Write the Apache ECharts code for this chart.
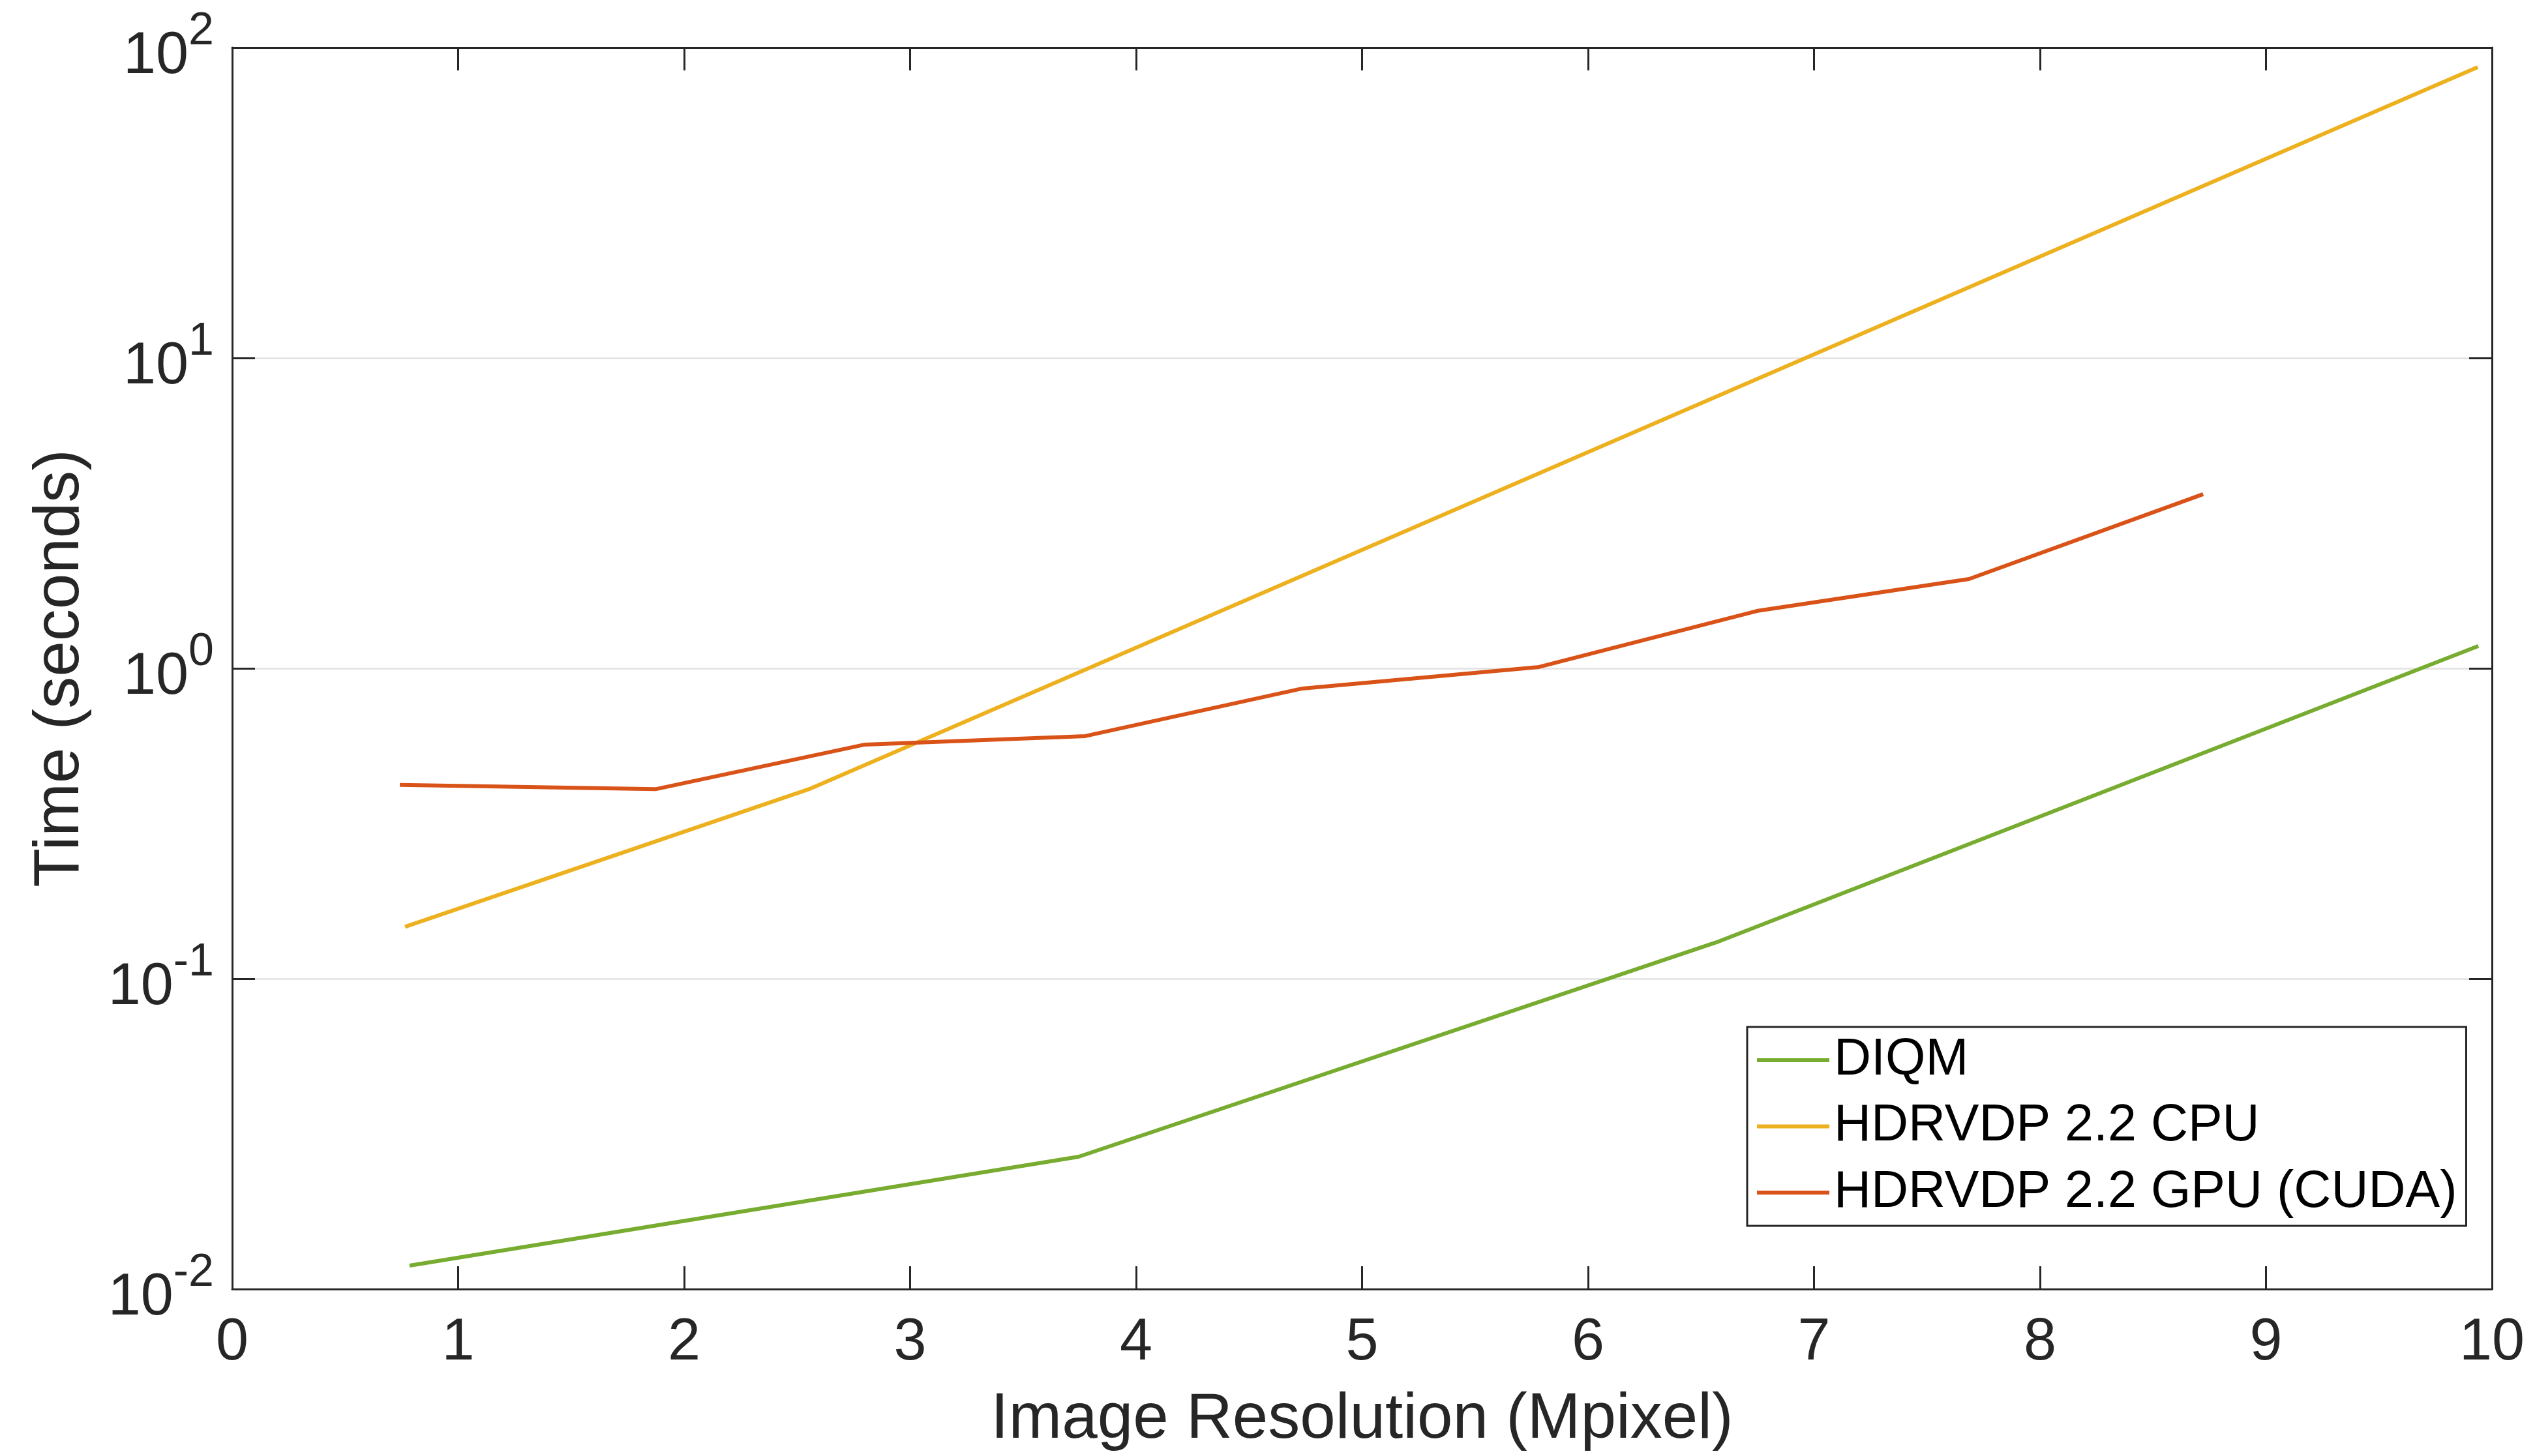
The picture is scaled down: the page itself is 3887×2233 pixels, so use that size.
<!DOCTYPE html>
<html><head><meta charset="utf-8">
<script src="https://cdn.jsdelivr.net/npm/echarts@6/dist/echarts.min.js"></script>
<style>html,body{margin:0;padding:0;background:#fff}#c{width:3887px;height:2233px}</style>
</head><body><div id="c"></div>
<script>
// ---- data ----
const seriesNames = ['DIQM', 'HDRVDP 2.2 CPU', 'HDRVDP 2.2 GPU (CUDA)'];
const diqmX = [0.785, 3.746, 6.568, 9.94];
const diqmY = [0.0119, 0.0267, 0.131, 1.18];
const cpuX = [0.765, 2.56, 9.937];
const cpuY = [0.147, 0.41, 86.5];
const gpuX = [0.742, 1.873, 2.80, 3.775, 4.736, 5.783, 6.747, 7.686, 8.722];
const gpuY = [0.421, 0.408, 0.568, 0.605, 0.861, 1.01, 1.53, 1.94, 3.64];
const xTickLabels = ['0','1','2','3','4','5','6','7','8','9','10'];
const yTickExponents = [-2, -1, 0, 1, 2];
const xTitle = 'Image Resolution (Mpixel)';
const yTitle = 'Time (seconds)';

// ---- style ----
const FONT = '"Liberation Sans", Arial, Helvetica, sans-serif';
const INK = '#262626';
const colors = ['#77AC30', '#EDB120', '#D95319'];

function zip(xs, ys) { return xs.map((x, i) => [x, ys[i]]); }

const chart = echarts.init(document.getElementById('c'), null, {renderer: 'canvas'});

const axisLine = {show: true, onZero: false, lineStyle: {color: INK, width: 3}};
const axisTick = {show: true, inside: true, length: 35, lineStyle: {color: INK, width: 3}};

const option = {
  animation: false,
  backgroundColor: '#fff',
  grid: {left: 356, right: 66, top: 73, bottom: 256, containLabel: false},
  xAxis: [{
    type: 'value', min: 0, max: 10, interval: 1, position: 'bottom',
    axisLine: axisLine, axisTick: axisTick,
    axisLabel: {margin: 38, fontSize: 90, color: INK, fontFamily: FONT,
      formatter: v => xTickLabels[Math.round(v)]},
    splitLine: {show: false},
    name: xTitle, nameLocation: 'middle', nameGap: 152,
    nameTextStyle: {fontSize: 98, color: INK, fontFamily: FONT}
  }, {
    type: 'value', min: 0, max: 10, interval: 1, position: 'top',
    axisLine: axisLine, axisTick: axisTick,
    axisLabel: {show: false}, splitLine: {show: false}
  }],
  yAxis: [{
    type: 'log', logBase: 10, min: 0.01, max: 100, position: 'left',
    axisLine: axisLine, axisTick: axisTick, minorTick: {show: false},
    axisLabel: {
      margin: 28, color: INK, fontFamily: FONT,
      formatter: v => {
        const e = Math.round(Math.log10(v));
        if (yTickExponents.indexOf(e) < 0) return '';
        return '{b|10}{s|' + e + '}';
      },
      rich: {
        b: {fontSize: 90, lineHeight: 118, verticalAlign: 'bottom', color: INK, fontFamily: FONT},
        s: {fontSize: 70, verticalAlign: 'top', color: INK, fontFamily: FONT}
      }
    },
    splitLine: {show: true, lineStyle: {color: '#e2e2e2', width: 2.5}},
    name: yTitle, nameLocation: 'middle', nameGap: 214, nameRotate: 90,
    nameTextStyle: {fontSize: 98, color: INK, fontFamily: FONT}
  }, {
    type: 'log', logBase: 10, min: 0.01, max: 100, position: 'right',
    axisLine: axisLine, axisTick: axisTick, minorTick: {show: false},
    axisLabel: {show: false}, splitLine: {show: false}
  }],
  legend: {
    orient: 'vertical', left: 2679, top: 1575,
    padding: [11, 14, 11, 15], itemGap: 21.5,
    itemWidth: 111, itemHeight: 6, icon: 'rect',
    borderColor: INK, borderWidth: 3, backgroundColor: '#fff',
    textStyle: {fontSize: 79, lineHeight: 80, color: '#000', fontFamily: FONT, padding: [0, 0, 0, 2]},
    data: seriesNames
  },
  series: [
    {name: seriesNames[0], type: 'line', data: zip(diqmX, diqmY), color: colors[0]},
    {name: seriesNames[1], type: 'line', data: zip(cpuX, cpuY), color: colors[1]},
    {name: seriesNames[2], type: 'line', data: zip(gpuX, gpuY), color: colors[2]}
  ].map(s => Object.assign(s, {
    xAxisIndex: 0, yAxisIndex: 0, symbol: 'none', showSymbol: false,
    lineStyle: {width: 6, color: s.color}, itemStyle: {color: s.color}
  }))
};
chart.setOption(option);
</script></body></html>
